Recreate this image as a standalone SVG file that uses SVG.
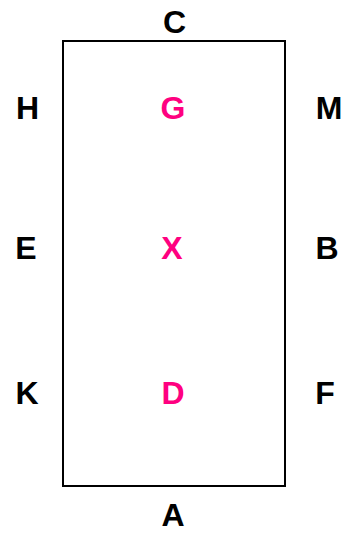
<svg xmlns="http://www.w3.org/2000/svg" width="343" height="533" viewBox="0 0 343 533">
<style>
text{font-family:"Liberation Sans",Arial,sans-serif;font-weight:bold;font-size:32px;text-anchor:middle}
.o{fill:#000}
.i{fill:#FF0080}
</style>
<rect width="343" height="533" fill="#fff"/>
<g id="arena"><rect x="63" y="41" width="222" height="445" fill="none" stroke="#000" stroke-width="2"/></g>
<g id="C"><text class="o" x="174.5" y="33">C</text></g>
<g id="H"><text class="o" x="27.5" y="119">H</text></g>
<g id="G"><text class="i" x="173" y="119">G</text></g>
<g id="M"><text class="o" x="329" y="119">M</text></g>
<g id="E"><text class="o" x="26" y="259">E</text></g>
<g id="X"><text class="i" x="172" y="259">X</text></g>
<g id="B"><text class="o" x="327" y="259">B</text></g>
<g id="K"><text class="o" x="27" y="404">K</text></g>
<g id="D"><text class="i" x="173" y="404">D</text></g>
<g id="F"><text class="o" x="325" y="404">F</text></g>
<g id="A"><text class="o" x="173" y="526">A</text></g>
</svg>
